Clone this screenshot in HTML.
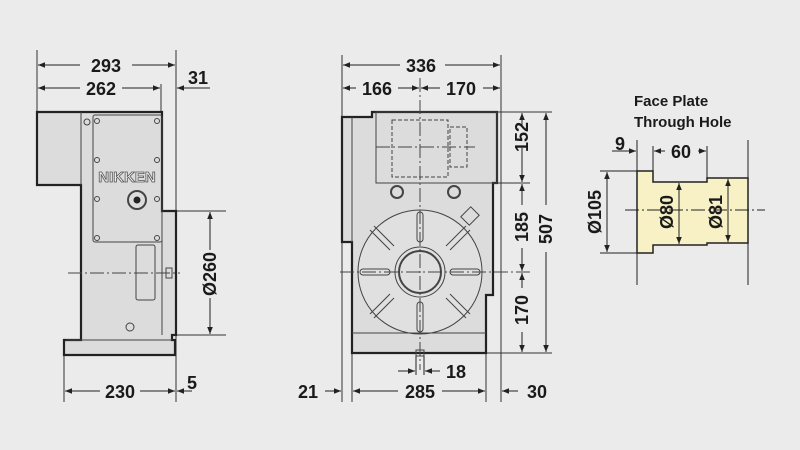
<!DOCTYPE html>
<html><head><meta charset="utf-8"><style>
html,body{margin:0;padding:0;background:#ebebeb;}
svg{display:block}
text{font-family:"Liberation Sans",sans-serif;font-weight:bold;fill:#1a1a1a}
.d{font-size:18px}
</style></head><body>
<svg width="800" height="450" viewBox="0 0 800 450" xmlns="http://www.w3.org/2000/svg">
<defs>
<marker id="a" viewBox="0 0 10 10" refX="10" refY="5" markerWidth="7" markerHeight="7" orient="auto-start-reverse"><path d="M0,1 L10,5 L0,9 z" fill="#222"/></marker>
</defs>
<rect width="800" height="450" fill="#ebebeb"/>
<g stroke="#333" stroke-width="1" fill="none">
<line x1="37" y1="50" x2="37" y2="112"/>
<line x1="176" y1="50" x2="176" y2="402"/>
<line x1="161" y1="84" x2="161" y2="112"/>
<line x1="64" y1="355" x2="64" y2="402"/>
<line x1="176" y1="211" x2="226" y2="211"/>
<line x1="176" y1="335" x2="226" y2="335"/>
</g>
<g stroke="#222" stroke-width="2.2" fill="#dcdcdc">
<path d="M37,112 H162 V211 H176 V335 H172 V340 H175 V355 H64 V340 H81 V185 H37 Z"/>
</g>
<g stroke="#444" stroke-width="1" fill="none">
<line x1="81" y1="112" x2="81" y2="185"/>
<line x1="162" y1="211" x2="162" y2="335"/>
<line x1="66" y1="340" x2="172" y2="340"/>
<rect x="93" y="115" width="69" height="127" rx="2"/>
<rect x="136" y="245" width="19" height="55" rx="2"/>
<circle cx="137" cy="200" r="9" stroke-width="2"/>
<circle cx="87" cy="122" r="3"/>
<circle cx="130" cy="327" r="4"/>
<circle cx="97" cy="121" r="2.5"/><circle cx="157" cy="121" r="2.5"/>
<circle cx="97" cy="160" r="2.5"/><circle cx="157" cy="160" r="2.5"/>
<circle cx="97" cy="199" r="2.5"/><circle cx="157" cy="199" r="2.5"/>
<circle cx="97" cy="238" r="2.5"/><circle cx="157" cy="238" r="2.5"/>
<rect x="166" y="268" width="6" height="10"/>
<line x1="68" y1="273" x2="180" y2="273" stroke-dasharray="14,3,2,3"/>
</g>
<circle cx="137" cy="200" r="3.5" fill="#222"/>
<text x="127" y="182" text-anchor="middle" style="font-size:15px;fill:#eee;stroke:#555;stroke-width:0.8">NIKKEN</text>
<g stroke="#222" stroke-width="1" fill="none">
<line x1="38" y1="65" x2="80" y2="65" marker-start="url(#a)"/><line x1="132" y1="65" x2="175" y2="65" marker-end="url(#a)"/>
<line x1="38" y1="88" x2="80" y2="88" marker-start="url(#a)"/><line x1="122" y1="88" x2="160" y2="88" marker-end="url(#a)"/>
<line x1="210" y1="88" x2="177" y2="88" marker-end="url(#a)"/>
<line x1="210" y1="212" x2="210" y2="250" marker-start="url(#a)"/><line x1="210" y1="298" x2="210" y2="334" marker-end="url(#a)"/>
<line x1="65" y1="391" x2="100" y2="391" marker-start="url(#a)"/><line x1="140" y1="391" x2="175" y2="391" marker-end="url(#a)"/>
<line x1="192" y1="391" x2="177" y2="391" marker-end="url(#a)"/>
</g>
<text class="d" x="106" y="72" text-anchor="middle">293</text>
<text class="d" x="101" y="95" text-anchor="middle">262</text>
<text class="d" x="198" y="84" text-anchor="middle">31</text>
<text class="d" transform="translate(216,274) rotate(-90)" text-anchor="middle">Ø260</text>
<text class="d" x="120" y="398" text-anchor="middle">230</text>
<text class="d" x="192" y="389" text-anchor="middle">5</text>

<g stroke="#333" stroke-width="1" fill="none">
<line x1="342" y1="55" x2="342" y2="402"/>
<line x1="501" y1="55" x2="501" y2="402"/>
<line x1="352" y1="353" x2="352" y2="402"/>
<line x1="486" y1="353" x2="486" y2="402"/>
<line x1="497" y1="112" x2="552" y2="112"/>
<line x1="497" y1="183" x2="530" y2="183"/>
<line x1="486" y1="353" x2="552" y2="353"/>
</g>
<g stroke="#222" stroke-width="2.2" fill="#dcdcdc">
<path d="M342,117 H372 V112 H497 V183 H493 V295 H486 V353 H352 V242 H342 Z"/>
</g>
<g stroke="#444" stroke-width="1" fill="none">
<rect x="376" y="112" width="121" height="71"/>
<line x1="352" y1="117" x2="352" y2="242"/>
<rect x="392" y="120" width="56" height="57" stroke-dasharray="4,2"/>
<rect x="450" y="127" width="17" height="40" stroke-dasharray="4,2"/>
<line x1="376" y1="147" x2="475" y2="147" stroke-dasharray="14,3,2,3"/>
<circle cx="397" cy="192" r="6" stroke-width="2"/><circle cx="454" cy="192" r="6" stroke-width="2"/>
<circle cx="420" cy="272" r="62" fill="#e0e0e0"/>
<circle cx="420" cy="272" r="25"/>
<circle cx="420" cy="272" r="21" stroke-width="2"/>
<rect x="417" y="212" width="6" height="30" rx="3"/>
<rect x="417" y="302" width="6" height="30" rx="3"/>
<rect x="360" y="269" width="30" height="6" rx="3"/>
<rect x="450" y="269" width="30" height="6" rx="3"/>
<line x1="374" y1="226" x2="394" y2="246"/><line x1="370" y1="230" x2="390" y2="250"/>
<line x1="466" y1="226" x2="446" y2="246"/><line x1="470" y1="230" x2="450" y2="250"/>
<line x1="374" y1="318" x2="394" y2="298"/><line x1="370" y1="314" x2="390" y2="294"/>
<line x1="466" y1="318" x2="446" y2="298"/><line x1="470" y1="314" x2="450" y2="294"/>
<rect x="463" y="210" width="14" height="12" transform="rotate(-45 470 216)"/>
<line x1="352" y1="333" x2="486" y2="333"/>
<rect x="416" y="350" width="8" height="6"/>
<line x1="340" y1="272" x2="530" y2="272" stroke-dasharray="14,3,2,3"/>
<line x1="420" y1="78" x2="420" y2="370" stroke-dasharray="14,3,2,3"/>
</g>
<g stroke="#222" stroke-width="1" fill="none">
<line x1="343" y1="65" x2="400" y2="65" marker-start="url(#a)"/><line x1="445" y1="65" x2="500" y2="65" marker-end="url(#a)"/>
<line x1="343" y1="88" x2="356" y2="88" marker-start="url(#a)"/><line x1="398" y1="88" x2="419" y2="88" marker-end="url(#a)"/>
<line x1="421" y1="88" x2="440" y2="88" marker-start="url(#a)"/><line x1="483" y1="88" x2="500" y2="88" marker-end="url(#a)"/>
<line x1="522" y1="113" x2="522" y2="125" marker-start="url(#a)"/><line x1="522" y1="148" x2="522" y2="182" marker-end="url(#a)"/>
<line x1="522" y1="184" x2="522" y2="205" marker-start="url(#a)"/><line x1="522" y1="248" x2="522" y2="271" marker-end="url(#a)"/>
<line x1="522" y1="273" x2="522" y2="288" marker-start="url(#a)"/><line x1="522" y1="332" x2="522" y2="352" marker-end="url(#a)"/>
<line x1="546" y1="113" x2="546" y2="205" marker-start="url(#a)"/><line x1="546" y1="252" x2="546" y2="352" marker-end="url(#a)"/>
<line x1="398" y1="371" x2="415" y2="371" marker-end="url(#a)"/><line x1="440" y1="371" x2="425" y2="371" marker-end="url(#a)"/>
<line x1="416" y1="356" x2="416" y2="375"/><line x1="424" y1="356" x2="424" y2="375"/>
<line x1="325" y1="391" x2="341" y2="391" marker-end="url(#a)"/>
<line x1="353" y1="391" x2="398" y2="391" marker-start="url(#a)"/><line x1="442" y1="391" x2="485" y2="391" marker-end="url(#a)"/>
<line x1="518" y1="391" x2="502" y2="391" marker-end="url(#a)"/>
</g>
<text class="d" x="421" y="72" text-anchor="middle">336</text>
<text class="d" x="377" y="95" text-anchor="middle">166</text>
<text class="d" x="461" y="95" text-anchor="middle">170</text>
<text class="d" transform="translate(528,137) rotate(-90)" text-anchor="middle">152</text>
<text class="d" transform="translate(528,227) rotate(-90)" text-anchor="middle">185</text>
<text class="d" transform="translate(528,310) rotate(-90)" text-anchor="middle">170</text>
<text class="d" transform="translate(552,229) rotate(-90)" text-anchor="middle">507</text>
<text class="d" x="456" y="378" text-anchor="middle">18</text>
<text class="d" x="308" y="398" text-anchor="middle">21</text>
<text class="d" x="420" y="398" text-anchor="middle">285</text>
<text class="d" x="537" y="398" text-anchor="middle">30</text>

<text x="634" y="106" style="font-size:15px">Face Plate</text>
<text x="634" y="127" style="font-size:15px">Through Hole</text>
<path d="M637,171 H653 V182 H707 V178 H748 V243 H707 V245 H653 V253 H637 Z" fill="#f8f1c6" stroke="#222" stroke-width="1.5"/>
<g stroke="#222" stroke-width="1" fill="none">
<line x1="637" y1="140" x2="637" y2="285"/>
<line x1="748" y1="140" x2="748" y2="285"/>
<line x1="653" y1="146" x2="653" y2="182"/>
<line x1="707" y1="146" x2="707" y2="178"/>
<line x1="625" y1="210" x2="765" y2="210" stroke-dasharray="14,3,2,3"/>
<line x1="600" y1="171" x2="637" y2="171"/><line x1="600" y1="253" x2="637" y2="253"/>
<line x1="612" y1="151" x2="636" y2="151" marker-end="url(#a)"/>
<line x1="665" y1="151" x2="654" y2="151" marker-end="url(#a)"/>
<line x1="698" y1="151" x2="706" y2="151" marker-end="url(#a)"/>
<line x1="607" y1="172" x2="607" y2="252" marker-start="url(#a)" marker-end="url(#a)"/>
<line x1="679" y1="183" x2="679" y2="244" marker-start="url(#a)" marker-end="url(#a)"/>
<line x1="728" y1="179" x2="728" y2="242" marker-start="url(#a)" marker-end="url(#a)"/>
</g>
<text class="d" x="620" y="150" text-anchor="middle">9</text>
<text class="d" x="681" y="158" text-anchor="middle">60</text>
<text class="d" transform="translate(601,212) rotate(-90)" text-anchor="middle">Ø105</text>
<text class="d" transform="translate(673,212) rotate(-90)" text-anchor="middle">Ø80</text>
<text class="d" transform="translate(722,212) rotate(-90)" text-anchor="middle">Ø81</text>
</svg>
</body></html>
